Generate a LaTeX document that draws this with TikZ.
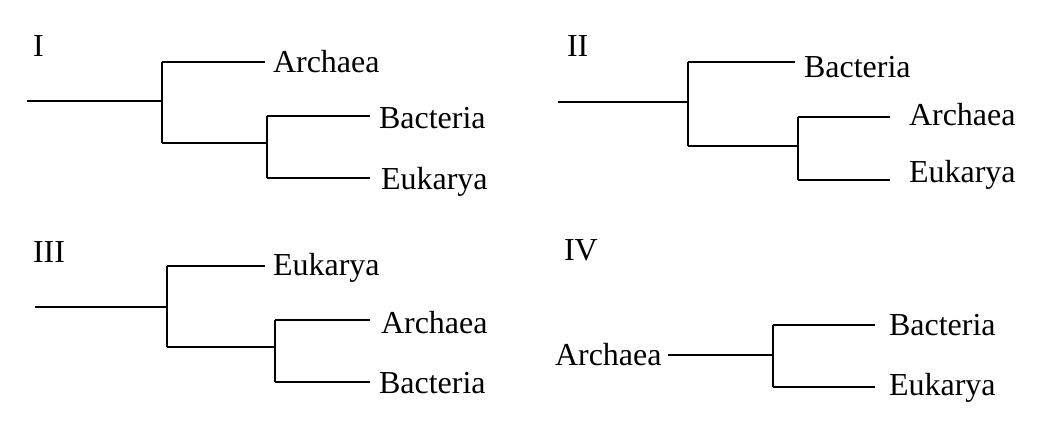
\documentclass[tikz,border=0pt]{standalone}
\usepackage{fontspec}
\setmainfont{Liberation Serif}
\begin{document}
\begin{tikzpicture}[x=1pt,y=-1pt,line width=2pt,
  lab/.style={anchor=west,inner sep=0pt,font=\fontsize{32}{36}\selectfont},
  br/.style={line cap=rect}]
\useasboundingbox (0,0) rectangle (1046,444);
% Tree I
\node[lab] at (32,46) {I};
\coordinate (r1) at (28,101);
\draw[br] (r1) -- (162,101);
\draw (162,62) -- (162,143);
\draw (162,62) -- (265,62);
\node[lab] (a1) at (272,62) {Archaea};
\draw (162,143) -- (267,143);
\draw (267,116) -- (267,178);
\draw (267,116) -- (370,116);
\draw (267,178) -- (370,178);
\node[lab] (b1) at (378,118) {Bacteria};
\node[lab] (e1) at (380,182) {Eukarya};
% Tree II
\node[lab] at (566,46) {II};
\draw (558,102) -- (688,102);
\draw (688,62) -- (688,146);
\draw (688,62) -- (795,62);
\node[lab] (b2) at (803,67) {Bacteria};
\draw (688,146) -- (798,146);
\draw (798,117) -- (798,180);
\draw (798,117) -- (890,117);
\draw (798,180) -- (890,180);
\node[lab] (a2) at (908,115) {Archaea};
\node[lab] (e2) at (908,175) {Eukarya};
% Tree III
\node[lab] at (32,252) {III};
\draw (35,307) -- (167,307);
\draw (167,266) -- (167,347);
\draw (167,266) -- (265,266);
\node[lab] (e3) at (272,268) {Eukarya};
\draw (167,347) -- (275,347);
\draw (275,320) -- (275,382);
\draw (275,320) -- (370,320);
\draw (275,382) -- (370,382);
\node[lab] (a3) at (380,323) {Archaea};
\node[lab] (b3) at (378,383) {Bacteria};
% Tree IV
\node[lab] at (563,250) {IV};
\node[lab] (a4) at (554,355) {Archaea};
\draw (668,355) -- (773,355);
\draw (773,325) -- (773,387);
\draw (773,325) -- (875,325);
\draw (773,387) -- (875,387);
\node[lab] (b4) at (888,325) {Bacteria};
\node[lab] (e4) at (888,388) {Eukarya};
\end{tikzpicture}
\end{document}
